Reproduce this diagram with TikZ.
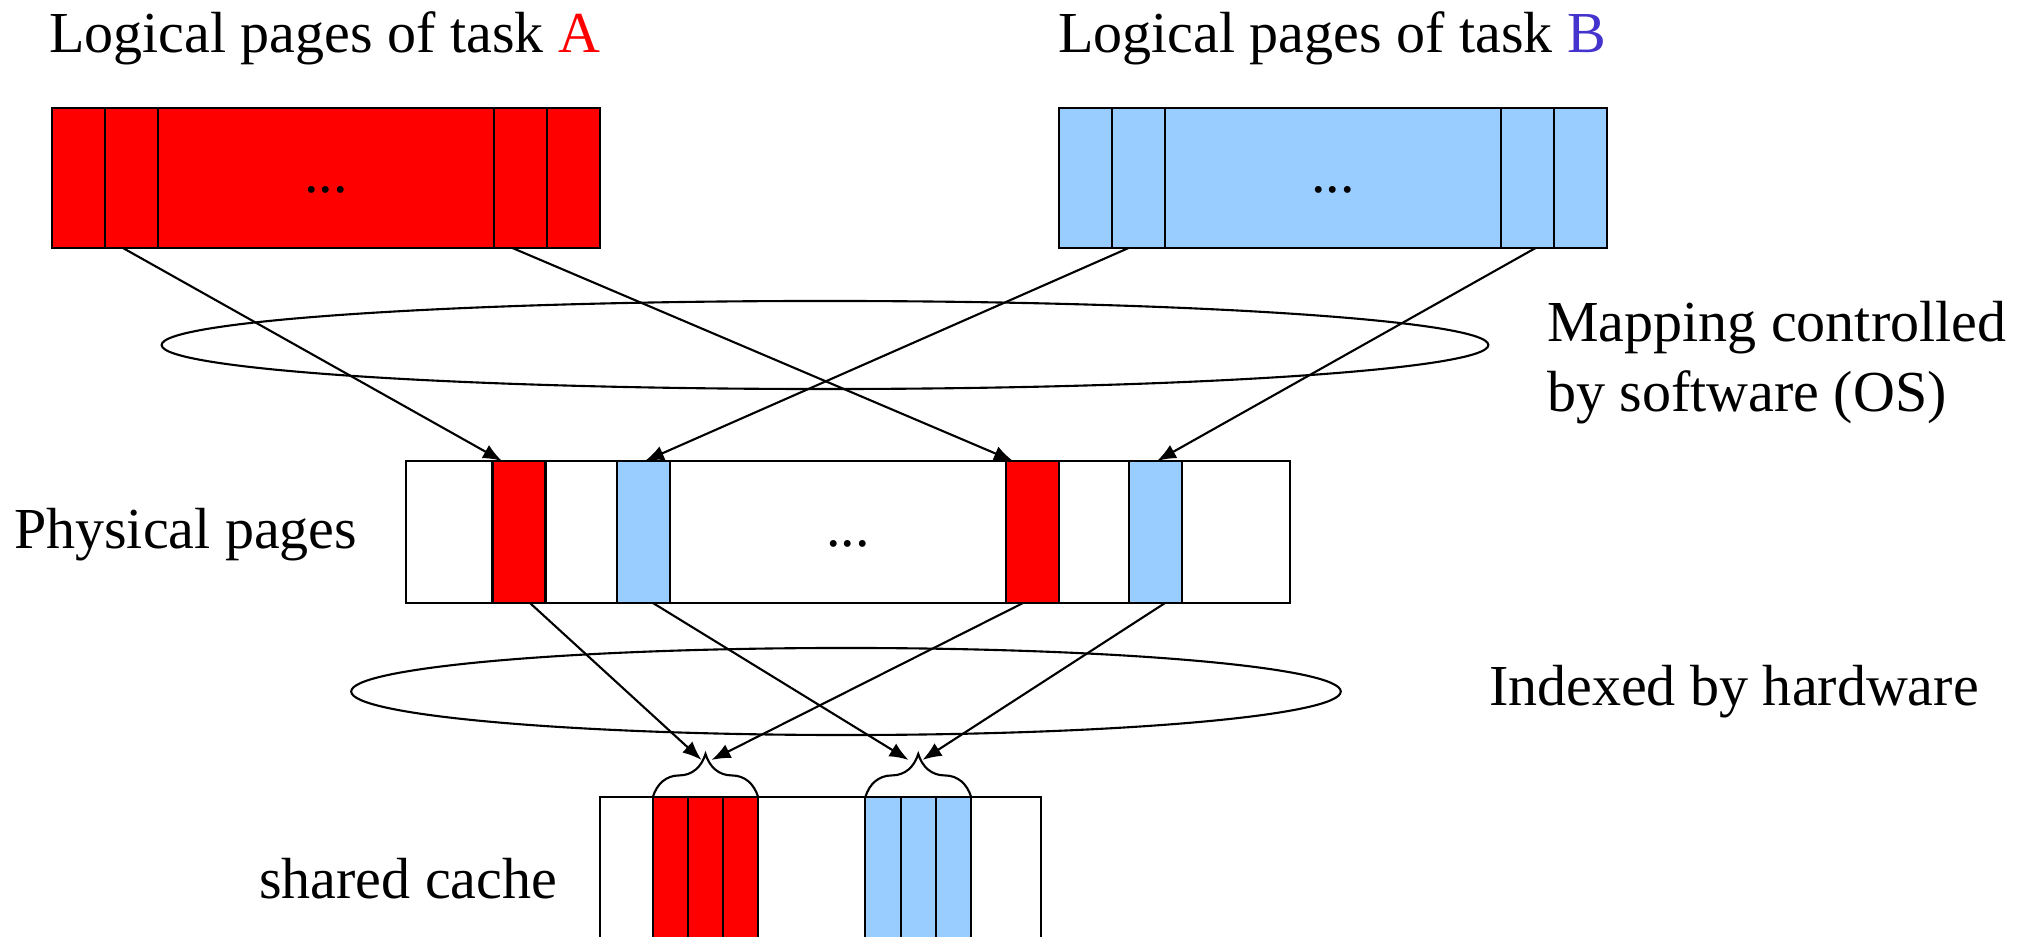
\documentclass[tikz,border=0pt]{standalone}
\usepackage{fontspec}
\setmainfont{Liberation Serif}
\usepackage{tikz}
\usetikzlibrary{arrows.meta,calc,decorations.pathreplacing}
\definecolor{taskred}{RGB}{255,0,0}
\definecolor{taskblue}{RGB}{153,204,255}
\definecolor{labelblue}{RGB}{68,51,204}

\begin{document}
\begin{tikzpicture}[x=0.01cm, y=-0.01cm, line width=0.6pt]

		\tikzset{
		    cell/.style={draw, inner sep=0pt, outer sep=0pt, minimum width=0.53cm, minimum height=1.4cm},
		    cachecell/.style={draw, inner sep=0pt, outer sep=0pt, minimum width=0.352cm, minimum height=2cm},
		    link/.style={-{Latex[length=1.9mm, width=1.5mm]}},
		    lbl/.style={inner sep=0pt, font=\fontsize{16.5pt}{20pt}\selectfont}
		}

		\useasboundingbox (0,0) rectangle (2032,937);

		% logical pages of both tasks

		\node[cell, fill=taskred] (a1) at (78.5,178) {};
		\node[cell, fill=taskred] (a2) at (131.5,178) {};
		\node[cell, fill=taskred, minimum width=3.36cm, lbl] (a3) at (326,178) {\strut...};
		\node[cell, fill=taskred] (a4) at (520.5,178) {};
		\node[cell, fill=taskred] (a5) at (573.5,178) {};

		\node[cell, fill=taskblue] (b1) at (1085.5,178) {};
		\node[cell, fill=taskblue] (b2) at (1138.5,178) {};
		\node[cell, fill=taskblue, minimum width=3.36cm, lbl] (b3) at (1333,178) {\strut...};
		\node[cell, fill=taskblue] (b4) at (1527.5,178) {};
		\node[cell, fill=taskblue] (b5) at (1580.5,178) {};

		% physical pages

		\node[cell, minimum width=8.84cm, minimum height=1.42cm, lbl] (phys) at (848,532) {\strut...};
		\node[cell, fill=taskred, minimum height=1.42cm] (p1) at (519,532) {};
		\node[cell, fill=taskblue, minimum height=1.42cm] (p2) at (643.5,532) {};
		\node[cell, fill=taskred, minimum height=1.42cm] (p3) at (1032.5,532) {};
		\node[cell, fill=taskblue, minimum height=1.42cm] (p4) at (1155.5,532) {};

		% shared cache, cut off at the bottom

		\node[cachecell, minimum width=4.41cm] (cache) at (820.5,897) {};
		\node[cachecell, fill=taskred] (c1) at (670.5,897) {};
		\node[cachecell, fill=taskred] (c2) at (705.5,897) {};
		\node[cachecell, fill=taskred] (c3) at (740.5,897) {};
		\node[cachecell, fill=taskblue] (c4) at (883,897) {};
		\node[cachecell, fill=taskblue] (c5) at (918.5,897) {};
		\node[cachecell, fill=taskblue] (c6) at (953.5,897) {};

		% braces over the cache sets
		\draw[decorate, decoration={brace, amplitude=0.43cm}] (c1.north west) -- (c3.north east);
		\draw[decorate, decoration={brace, amplitude=0.43cm}] (c4.north west) -- (c6.north east);
		\coordinate (tipA) at ($(c2.north)+(0,-43)$);
		\coordinate (tipB) at ($(c5.north)+(0,-43)$);

		% ellipses for the two mappings
		\draw (825,345) ellipse [x radius=6.63cm, y radius=0.44cm];
		\draw (846,691.5) ellipse [x radius=4.945cm, y radius=0.435cm];

		% arrows

		\draw[link] ($(a2.south)+(-8.5,0)$) -- ($(p1.north)+(-17,0)$);
		\draw[link] ($(a4.south)+(-8,0)$) -- ($(p3.north)+(-19.5,0)$);
		\draw[link] ($(b2.south)+(-10,0)$) -- ($(p2.north)+(1.5,0)$);
		\draw[link] ($(b4.south)+(8,0)$) -- ($(p4.north)+(1.5,0)$);

		\draw[link] ($(p1.south)+(11,0)$) -- ($(tipA)+(-4,6)$);
		\draw[link] ($(p3.south)+(-9.5,0)$) -- ($(tipA)+(6,6)$);
		\draw[link] ($(p2.south)+(9.5,0)$) -- ($(tipB)+(-10,6)$);
		\draw[link] ($(p4.south)+(9.5,0)$) -- ($(tipB)+(4,6)$);

		% text

		\node[lbl, anchor=base west] (titleA) at (48,53) {Logical pages of task \textcolor{taskred}{A}};
		\node[lbl, anchor=base west] (titleB) at (1057,53) {Logical pages of task \textcolor{labelblue}{B}};
		\node[lbl, anchor=north west, align=left] (mapping) at (1546,300) {Mapping controlled\\by software (OS)};
		\node[lbl, anchor=base west] (physlabel) at (13,549) {Physical pages};
		\node[lbl, anchor=base west] (indexed) at (1488,706) {Indexed by hardware};
		\node[lbl, anchor=base west] (cachelabel) at (258,899) {shared cache};

\end{tikzpicture}
\end{document}
